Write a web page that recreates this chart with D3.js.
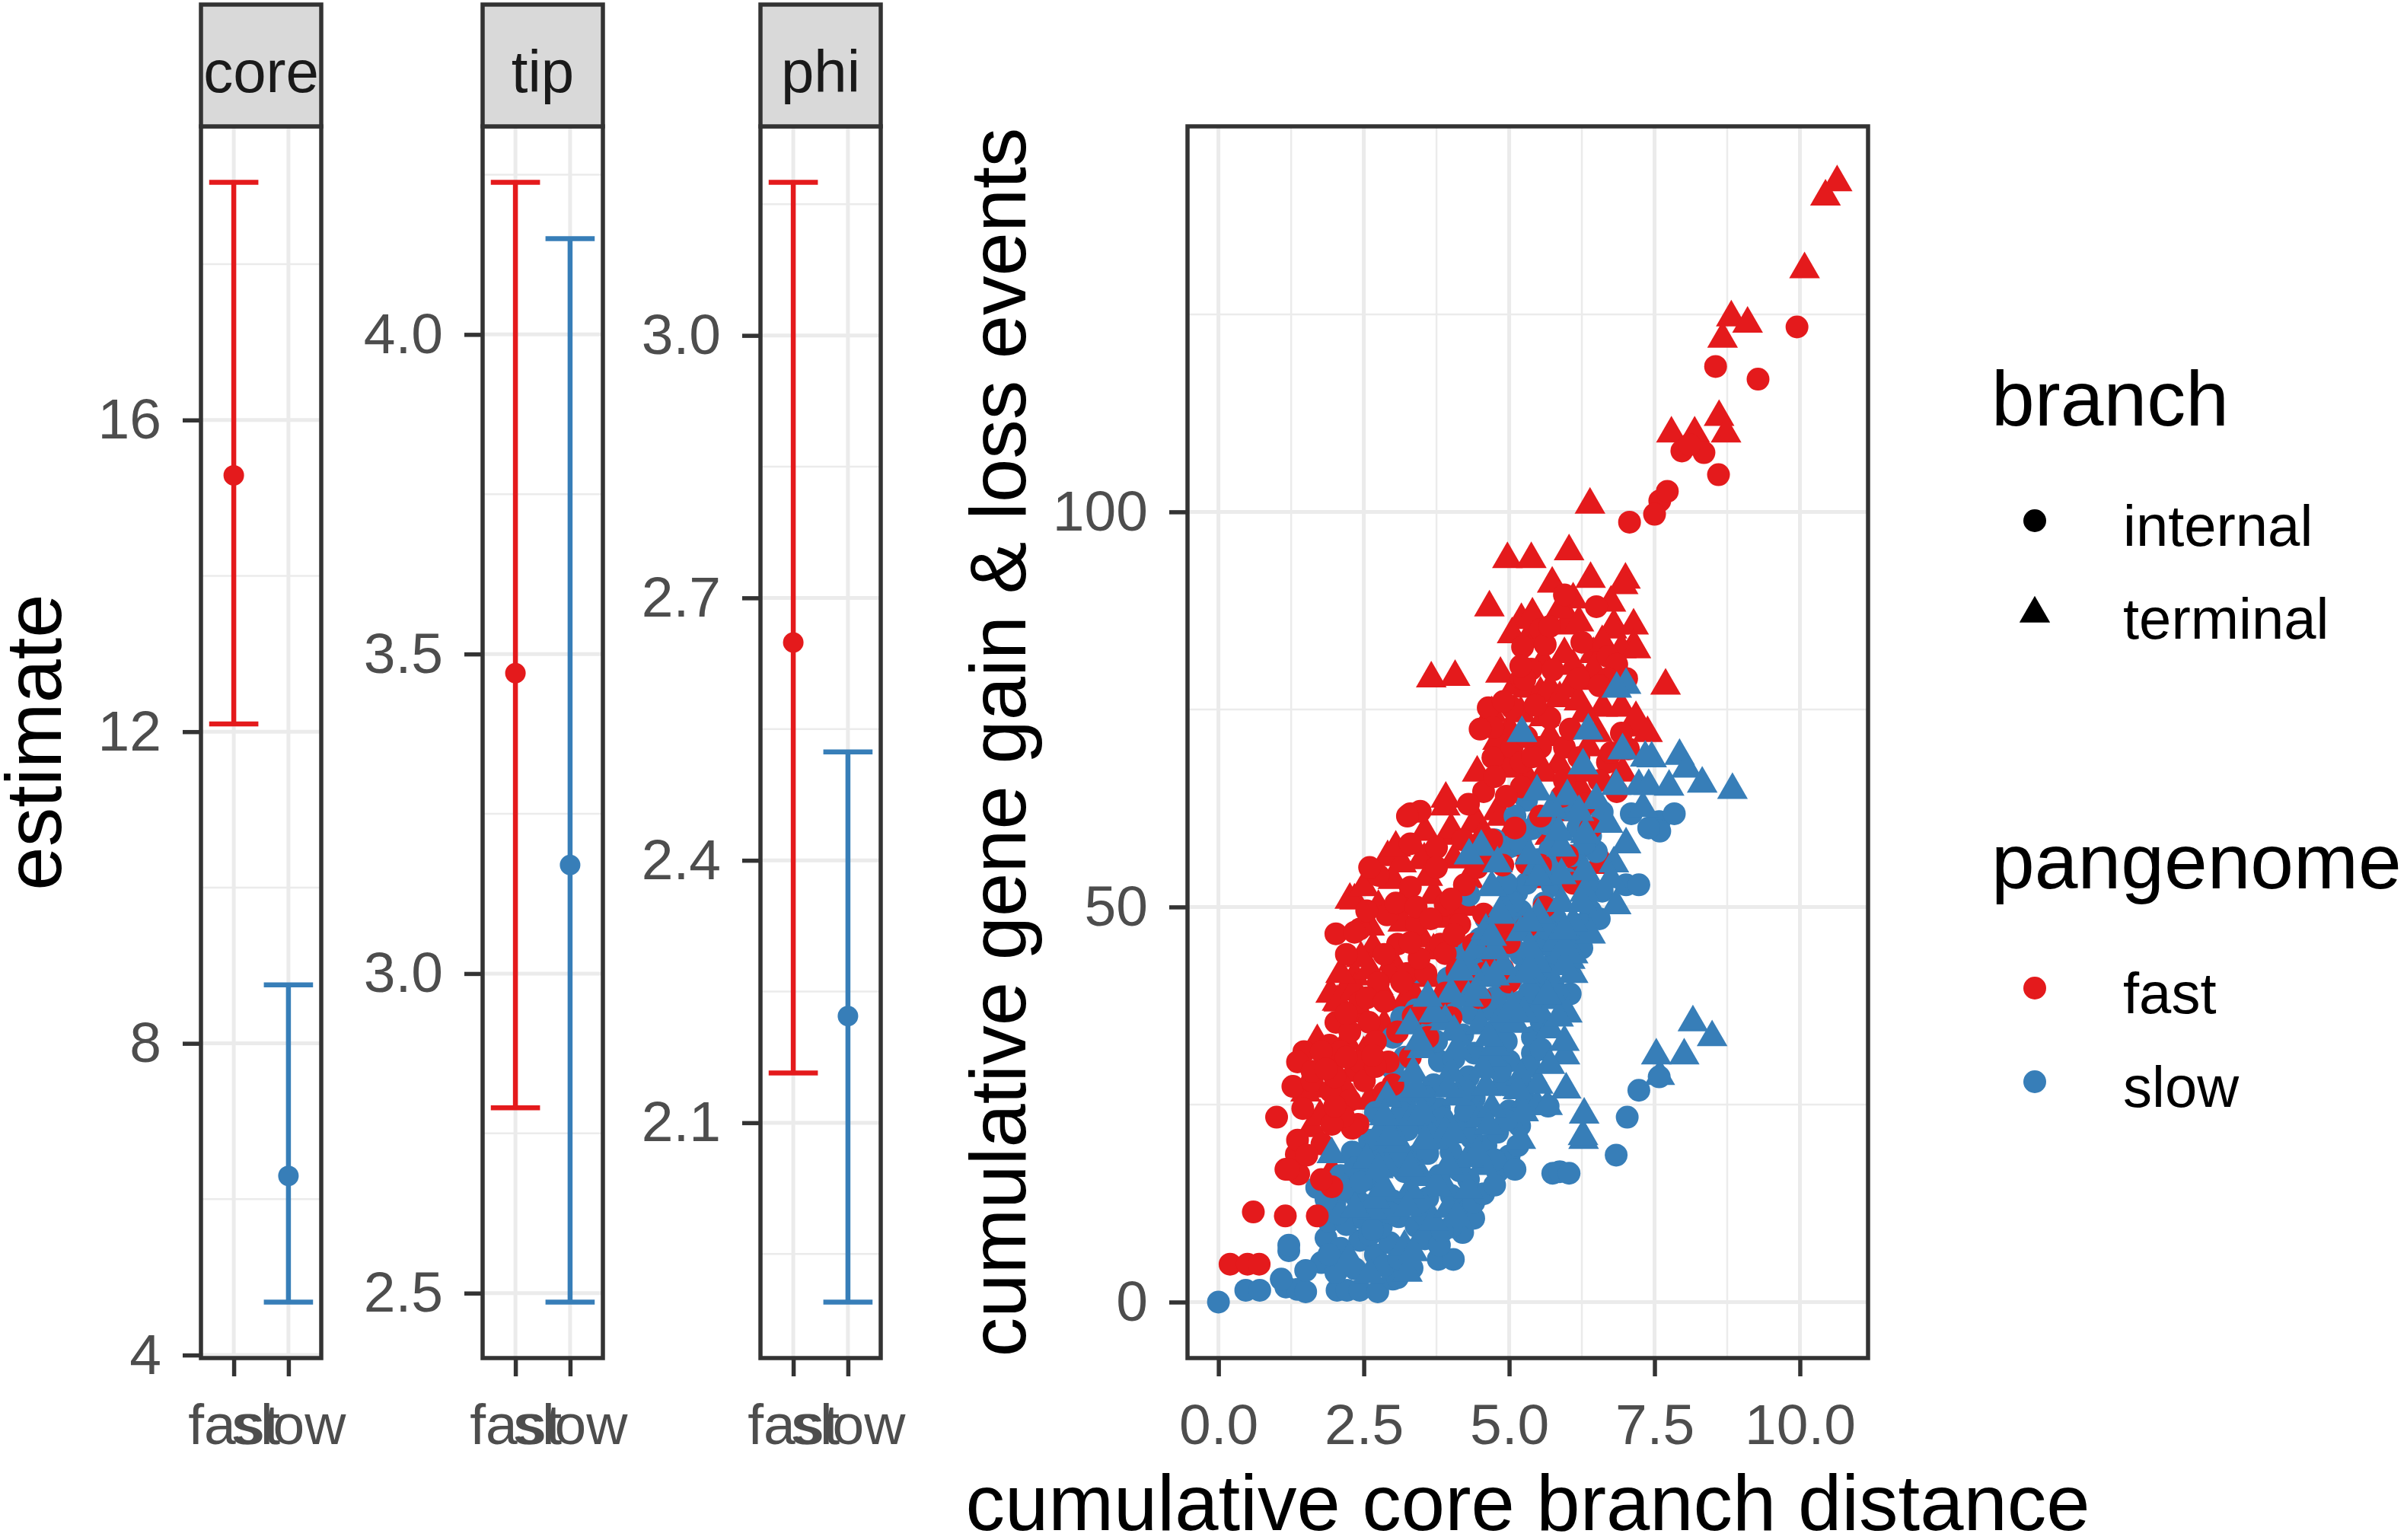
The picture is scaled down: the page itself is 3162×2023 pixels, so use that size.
<!DOCTYPE html>
<html>
<head>
<meta charset="utf-8">
<script src="https://cdn.jsdelivr.net/npm/d3@7"></script>
<style>
  body { margin: 0; background: #fff; }
  text { font-family: "Liberation Sans", Arial, sans-serif; }
</style>
</head>
<body>
<svg id="chart" width="3162" height="2023"></svg>
<script>
// ---- data ----
var categories = ["fast", "slow"];
var facetNames = ["core", "tip", "phi"];

var coreEst = [15.29, 6.30], coreLow = [12.10, 4.68], coreHigh = [19.05, 8.75];
var tipEst = [3.47, 3.17], tipLow = [2.79, 2.486], tipHigh = [4.238, 4.15];
var phiEst = [2.649, 2.222], phiLow = [2.157, 1.895], phiHigh = [3.175, 2.524];

var coreTicks = [4, 8, 12, 16];
var tipTicks = [2.5, 3.0, 3.5, 4.0];
var phiTicks = [2.1, 2.4, 2.7, 3.0];
var distTicks = [0, 2.5, 5, 7.5, 10];
var eventTicks = [0, 50, 100];

var branchLevels = ["internal", "terminal"];
var pangenomeColors = ["#E41A1C", "#377EB8"];

// cumulative core branch distance, cumulative gain/loss events
var fastTerminal = [
  [10.64,141.7],[10.44,139.9],[10.08,130.7],[8.82,124.6],[9.1,123.8],[8.67,121.9],[8.61,112.0],[8.73,109.9],
  [7.79,109.9],[8.19,109.9],[6.39,100.9],[4.97,94.0],[5.38,94.0],[6.03,95.0],[5.74,90.9],[4.66,87.9],
  [6.1,88.9],[5.92,87.7],[7.0,91.4],[6.96,90.7],[5.49,85.6],[5.97,85.6],[6.8,85.6],[7.14,85.6],[5.34,84.2],
  [3.66,78.9],[4.07,79.1],[7.69,78.0],[7.1,72.7],[7.38,72.0],[7.14,83.0],[6.27,78.6],
  [5.46,83.9],[5.3,77.6],[5.54,77.0],[5.7,77.6],[5.87,76.4],[6.03,77.6],[5.87,87.6],[5.21,86.3],
  [6.77,85.1],[6.93,82.6],[7.18,82.6],[6.61,75.2],[6.93,75.2],[7.18,73.9],[6.52,72.0],[4.89,68.9],
  [4.8,62.1],[4.39,60.5],[3.9,62.7],[3.98,59.0],[3.91,63.7],[4.0,59.8],[4.44,60.8],[4.87,61.4],
  [2.91,56.3],[3.54,56.0],[2.34,50.8],[3.22,51.1],[2.6,47.5],[3.17,48.0],[2.65,44.7],[2.34,41.2],
  [2.17,39.3],[2.04,38.0],[2.26,50.9],[2.67,44.7],[3.0,53.4],[3.49,55.9],[1.93,39.0],[2.07,37.9],
  [6.2,55.3],[6.27,54.2],[6.52,55.3],[5.87,56.5],[6.2,65.2],[6.52,62.7],[6.36,70.2],[5.6,74.0],
  [5.0,72.5],[4.7,74.5],[4.45,67.0],[5.3,66.5],[5.85,68.0],[6.0,62.0],[5.7,59.0],[5.2,57.5],
  [4.7,56.0],[4.3,53.5],[3.7,51.5],[3.9,48.5],[3.5,46.0],[3.0,43.0],[2.75,40.0],[2.45,36.5],
  [2.2,33.0],[1.9,30.5],[1.7,27.0],[2.5,31.5],[3.2,38.0],[3.6,41.0],[4.1,44.0],[4.6,47.0],
  [5.0,50.5],[5.4,53.5],[1.95,16.5],[1.6,22.0],[2.3,25.5],[5.58,81.0],[6.45,82.0],[6.1,80.5],
  [5.05,84.5],[4.85,79.5],
  [1.75,23.5],[1.5,26.5],[2.3,29.0],[2.6,25.5],[2.15,27.3],[1.7,33.0],
  [2.35,39.5],[2.6,42.0],[2.95,41.5],[3.35,39.0],[3.7,44.5],[2.45,43.5],[2.1,41.5],[4.35,43.0],[2.85,35.0],
  [2.5,52.5],[2.75,50.0],[3.15,55.5],[3.6,53.8],[3.55,59.5],[4.05,56.0],[4.5,58.5],[4.95,58.5],[4.25,50.0],[3.05,57.5],
  [5.0,67.5],[5.7,71.5],[6.3,74.5],[5.2,74.5],[6.2,76.0],[6.45,80.0],[5.95,82.0],[6.6,83.5],[6.2,86.0],
  [6.75,88.5],[5.4,87.0],[6.4,91.5],[6.95,67.0],[5.6,67.0],[6.25,67.0],[5.8,62.0],[4.8,71.0],[5.1,78.0],
  [5.75,54.5],[6.45,57.5],[6.6,56.0]
];
var fastInternal = [
  [0.2,4.8],[0.5,4.8],[0.7,4.8],[0.6,11.4],[1.15,10.9],[1.7,10.9],[1.0,23.4],[1.16,16.8],
  [1.38,16.2],[1.34,18.7],[1.78,20.0],[1.95,14.6],[1.47,31.7],[1.91,32.5],[1.36,30.4],[1.28,27.3],
  [1.61,28.0],[2.02,35.4],[2.02,46.6],[2.43,47.2],[2.34,46.8],[2.75,54.0],[3.3,61.8],[3.47,62.1],
  [3.25,61.5],[4.56,64.6],[4.72,68.9],[4.75,66.5],[5.05,70.2],[5.21,68.3],[5.21,78.9],[5.38,80.1],
  [5.27,78.8],[5.23,82.9],[6.7,81.7],[5.54,85.1],[5.62,83.2],[6.85,80.7],[6.69,78.9],[7.02,78.9],
  [6.2,78.9],[5.7,73.9],[5.54,70.2],[5.95,70.2],[6.2,68.9],[6.93,72.0],[6.69,68.3],[6.85,64.6],
  [5.21,65.2],[5.54,61.5],[4.56,56.5],[4.89,55.3],[4.23,52.8],[3.9,50.3],[4.15,47.8],[3.82,45.3],
  [4.56,49.1],[4.89,47.8],[3.41,47.8],[3.08,45.3],[3.25,41.6],[2.75,40.4],[2.43,37.9],[2.59,35.4],
  [2.26,34.2],[2.1,31.7],[2.43,30.4],[1.77,31.7],[1.61,29.2],[1.93,26.7],[2.26,25.5],[2.51,28.0],
  [2.92,30.4],[3.08,34.2],[3.57,36.6],[3.9,39.1],[4.23,40.4],[4.56,41.6],[4.89,42.2],[3.57,41.6],
  [3.9,44.1],[4.39,45.3],[2.85,26.5],[2.4,22.5],[1.36,20.5],[1.52,18.6],[1.2,16.8],[1.77,15.5],
  [5.54,55.3],[7.07,98.7],[7.59,101.4],[7.5,99.7],[7.72,102.6],[7.97,107.7],[8.35,107.5],[8.1,108.5],
  [8.6,104.7],[8.55,118.4],[9.28,116.8],[9.95,123.4],[4.64,75.2],[4.72,72.7],[5.05,75.2],[4.3,63.0],
  [3.75,57.5],[3.3,52.5],[2.9,49.0],[5.1,60.0],[5.9,64.0],[6.4,60.0],[5.6,50.0],[5.0,45.5],
  [5.3,47.5],[3.0,27.5],[2.7,33.0],[2.3,22.0],[2.15,23.5],[3.3,31.0],[3.6,33.5],[4.0,36.0],
  [4.5,38.5],[5.0,40.5],
  [1.45,24.5],[1.95,22.5],[2.0,28.5],[2.7,29.8],[2.0,24.8],[1.85,29.5],[2.65,31.2],[2.2,31.0],
  [2.2,36.5],[2.55,38.5],[2.85,38.0],[3.15,40.5],[2.85,44.0],[3.45,43.5],[3.3,45.5],[2.2,44.0],
  [3.75,38.0],[4.1,42.0],[4.7,44.0],[4.05,46.5],[3.35,36.2],
  [2.55,49.5],[3.05,50.5],[3.4,50.0],[3.3,58.0],[3.75,55.0],[4.2,58.5],[4.45,55.0],[4.7,58.5],
  [4.0,51.0],[3.65,48.5],[2.6,55.0],
  [4.95,64.0],[5.4,69.0],[6.05,72.5],[5.3,71.5],[5.45,75.5],[6.55,78.0],[5.75,80.0],[6.25,83.5],
  [5.7,85.5],[6.5,88.0],[5.95,89.5],[6.75,69.5],[7.05,70.0],[5.95,66.0],[6.55,66.0],[6.3,63.0],
  [4.9,76.0],[4.5,72.5],[5.2,80.5],[6.0,56.5],[6.1,53.0],[5.3,55.5]
];
var slowInternal = [
  [0,0],[0.47,1.5],[0.71,1.5],[1.16,1.9],[1.36,1.6],[1.5,1.3],[2.04,1.5],[2.21,1.5],[2.43,1.5],
  [2.74,1.3],[3.0,2.9],[1.08,2.9],[1.77,5.0],[2.02,3.7],[3.08,3.1],[3.33,4.3],[3.78,5.4],[4.04,5.4],
  [1.21,6.5],[1.21,7.2],[1.85,8.1],[2.1,6.8],[2.43,7.8],[2.7,6.0],[2.95,7.5],
  [1.9,10.2],[2.2,9.8],[2.5,10.5],[2.8,9.5],[3.1,10.8],[3.4,9.6],[4.2,8.8],[4.39,10.6],
  [1.69,14.5],[2.0,12.5],[2.35,13.5],[3.0,12.8],[3.6,13.2],[4.15,12.4],[4.39,12.6],[4.56,13.7],
  [2.1,16.0],[2.6,15.5],[3.2,16.5],[3.8,16.0],[4.3,15.5],[4.8,16.5],[4.75,14.8],[5.75,16.3],[5.87,16.5],[6.03,16.3],
  [2.3,19.0],[2.8,19.5],[3.4,18.5],[4.0,19.0],[4.6,19.8],[5.0,18.5],[6.84,18.6],
  [3.0,22.5],[3.6,22.0],[4.2,22.8],[4.8,21.5],[5.18,22.3],[7.03,23.4],
  [2.7,24.0],[3.2,25.5],[3.8,24.5],[4.4,25.8],[5.0,24.2],[5.67,24.8],
  [3.1,28.0],[3.7,27.5],[4.3,28.5],[4.9,27.5],[7.23,26.8],[7.58,28.5],
  [3.2,31.0],[3.8,30.5],[4.4,31.5],[5.0,30.5],[5.4,31.5],
  [3.0,33.5],[3.6,34.5],[4.2,33.8],[4.8,34.5],[5.4,33.5],
  [3.4,37.0],[4.0,37.5],[4.6,37.0],[5.2,38.0],
  [3.95,41.0],[4.3,40.5],[4.9,39.5],[5.5,40.5],
  [3.43,41.8],[4.1,43.5],[4.6,43.0],[5.2,44.0],[5.8,43.5],
  [4.5,46.0],[4.9,45.5],[5.5,46.5],[6.1,46.0],
  [4.6,48.5],[5.2,49.5],[5.8,48.5],[6.4,49.5],
  [4.31,51.5],[5.13,51.8],[5.74,52.7],[5.3,53.0],[6.0,53.5],[6.6,52.0],[7.01,52.8],[7.23,52.8],
  [5.0,57.6],[5.5,56.0],[5.2,58.0],[6.1,56.5],[6.5,57.0],
  [5.39,59.9],[5.5,61.0],[6.18,60.0],[6.4,59.0],[7.1,61.8],[7.58,60.8],[7.84,61.8],[7.59,59.6],
  [5.96,62.5],[5.3,63.5],
  [1.5,4.0],[2.35,4.2],[2.85,4.6],[1.9,6.0],[2.6,8.5],[3.1,5.5],[3.55,8.0],[3.8,7.2],[4.0,9.5],
  [2.05,11.2],[2.65,9.2],[2.95,11.3],[3.55,11.0],[3.85,9.0],[2.15,14.3],[2.5,12.3],[3.45,12.6],[4.0,13.5],[1.85,13.0],
  [2.35,17.0],[3.05,18.5],[3.6,18.8],[4.15,16.6],[4.75,18.0],[5.1,16.8],[5.15,19.8],[2.45,15.2],
  [2.6,20.5],[3.25,21.8],[3.85,23.3],[4.35,20.8],[4.95,23.0],[3.15,24.0],[4.25,24.2],
  [3.0,29.5],[3.55,26.0],[4.25,26.8],[4.85,29.2],[5.35,29.8],[4.05,30.8],[5.55,32.0],
  [3.15,36.0],[3.75,33.0],[4.35,36.5],[4.95,33.0],[5.55,35.5],[3.95,38.5],[4.75,38.5],[5.35,39.2],[6.05,39.0],
  [4.45,42.0],[5.05,41.0],[5.65,41.5],[4.3,44.5],[5.05,45.0],[5.65,45.2],[6.25,44.8],
  [5.05,47.5],[5.65,47.2],[6.25,47.8],[5.05,50.6],[5.6,50.5],[6.55,48.5],
  [4.95,53.0],[5.75,55.0],[6.35,53.0],[4.75,58.5],[5.7,57.2],[6.3,58.0],[5.65,60.5],[5.1,61.5],[6.6,62.0],[7.4,60.0]
];
var slowTerminal = [
  [3.25,3.7],[2.25,5.5],[3.2,7.0],[2.65,11.5],[3.7,10.2],[3.95,11.8],[2.7,13.0],[3.3,14.2],[3.9,14.5],
  [1.95,18.7],[2.9,17.0],[3.5,15.8],[4.55,17.2],[2.55,18.0],[3.1,20.0],[3.7,20.5],[4.3,18.2],
  [6.28,20.5],[6.27,21.0],[2.75,21.2],[3.35,23.5],[3.9,21.5],[4.5,23.2],[6.29,23.7],
  [2.9,25.8],[3.5,24.0],[4.1,26.0],[4.7,24.5],[5.3,25.8],[5.48,24.8],[5.66,24.8],
  [3.4,27.0],[4.0,29.0],[4.6,27.2],[5.2,28.5],[5.5,27.5],[5.98,26.9],[7.59,28.6],
  [3.5,32.0],[4.1,32.0],[4.7,31.0],[5.96,31.2],[7.53,31.2],[8.01,31.2],[5.7,30.0],
  [3.3,35.0],[3.9,35.5],[4.5,35.0],[5.1,35.2],[5.7,34.5],[5.95,32.9],[8.16,35.4],[8.49,33.5],
  [3.7,36.5],[4.3,38.5],[4.9,36.5],[5.5,37.0],[5.8,38.2],[6.0,36.5],
  [4.0,39.0],[4.6,41.0],[5.2,41.5],[5.8,40.0],[6.1,41.5],[6.05,43.3],
  [4.3,42.5],[4.44,44.7],[4.9,42.5],[5.5,42.8],[6.1,44.0],
  [4.6,47.0],[5.2,46.8],[5.8,45.5],[6.4,46.5],
  [4.9,50.0],[5.5,49.0],[5.9,50.5],[6.1,48.0],[6.84,50.2],
  [4.7,52.5],[5.9,54.0],[6.3,51.8],[4.52,57.6],[5.48,55.2],[4.31,56.5],[7.01,57.9],[5.9,57.5],
  [6.8,55.5],[4.8,55.5],[6.31,59.2],[5.74,62.5],[6.7,60.5],
  [5.48,64.6],[6.84,65.3],[7.23,65.3],[7.4,65.3],[7.75,65.2],[8.32,65.6],[8.84,64.8],[6.0,64.0],[6.5,63.5],
  [6.27,67.9],[6.95,69.8],[7.45,68.8],[7.93,69.1],[8.05,67.5],[7.34,68.9],
  [5.22,72.0],[6.36,72.3],[7.01,78.1],[6.85,77.6],
  [2.6,3.5],[3.35,6.3],[2.35,11.8],[3.25,12.0],[4.1,10.8],[2.85,14.5],[3.75,14.8],[4.3,14.2],
  [2.75,16.8],[3.3,17.0],[3.95,17.3],[4.45,18.8],[2.95,21.0],[3.55,20.4],[4.05,21.2],[4.65,22.3],
  [5.2,20.5],[2.85,23.5],[5.25,24.0],[3.35,29.0],[3.95,27.0],[4.55,29.5],[5.15,26.8],[4.75,32.3],
  [3.45,33.0],[4.05,34.2],[4.65,33.5],[5.25,36.5],[5.85,36.0],[3.6,38.5],[4.45,39.5],[5.05,37.2],
  [5.65,38.8],[4.15,41.8],[4.75,41.2],[5.35,42.2],[5.95,42.5],[4.75,44.5],[5.35,44.8],[5.95,45.0],
  [4.7,46.2],[5.35,48.0],[5.95,47.0],[4.85,49.0],[6.25,50.5],[5.5,53.8],[6.3,54.5],[6.75,53.5],
  [5.35,56.5],[5.85,59.5],[6.2,62.0],[7.3,62.5]
];

// ---- layout ----
var svg = d3.select("#chart");
var panelTop = 166, panelBottom = 1784, stripTop = 6;
var facetX = [264, 634, 999], facetW = 158;
var lineW = 5.5, barW = 6.5, gridW = 5, gridMinorW = 2.5, tickLen = 24;
var ink = "#333333", gridCol = "#EBEBEB", tickText = "#4D4D4D";
var smallFont = 75, bigFont = 103;
var pointR = 15;

function midTicks(ticks, domain) {
	// minor breaks halfway between majors, plus one either side if it fits
	var step = ticks[1] - ticks[0];
	var out = [];
	for (var i = -1; i < ticks.length; i++) {
		var v = ticks[0] + step * (i + 0.5);
		if (v > domain[0] && v < domain[1]) out.push(v);
	}
	return out;
}

function styleAxis(g) {
	g.select(".domain").remove();
	g.selectAll(".tick line").attr("stroke", ink).attr("stroke-width", lineW);
	g.selectAll(".tick text")
		.attr("fill", tickText)
		.style("font-size", smallFont + "px")
		.style("font-family", '"Liberation Sans", Arial, sans-serif');
}

function drawFacet(i, est, low, high, ticks, fmt) {
	var x0 = facetX[i];
	var ext = d3.extent(low.concat(high));
	var pad = (ext[1] - ext[0]) * 0.05;
	var y = d3.scaleLinear().domain([ext[0] - pad, ext[1] + pad]).range([panelBottom, panelTop]);
	var x = d3.scalePoint().domain(categories).range([x0, x0 + facetW]).padding(0.6);
	var g = svg.append("g").attr("class", "facet");

	g.selectAll(".minor").data(midTicks(ticks, y.domain())).enter().append("line")
		.attr("x1", x0).attr("x2", x0 + facetW)
		.attr("y1", function(d) { return y(d); }).attr("y2", function(d) { return y(d); })
		.attr("stroke", gridCol).attr("stroke-width", gridMinorW);
	g.selectAll(".major").data(ticks).enter().append("line")
		.attr("x1", x0).attr("x2", x0 + facetW)
		.attr("y1", function(d) { return y(d); }).attr("y2", function(d) { return y(d); })
		.attr("stroke", gridCol).attr("stroke-width", gridW);
	g.selectAll(".vgrid").data(categories).enter().append("line")
		.attr("x1", function(d) { return x(d); }).attr("x2", function(d) { return x(d); })
		.attr("y1", panelTop).attr("y2", panelBottom)
		.attr("stroke", gridCol).attr("stroke-width", gridW);

	var capHalf = x.step() * 0.45;
	var bars = g.selectAll(".bar").data(categories).enter().append("g");
	bars.append("line")
		.attr("x1", function(d) { return x(d); }).attr("x2", function(d) { return x(d); })
		.attr("y1", function(d, j) { return y(low[j]); }).attr("y2", function(d, j) { return y(high[j]); });
	bars.append("line")
		.attr("x1", function(d) { return x(d) - capHalf; }).attr("x2", function(d) { return x(d) + capHalf; })
		.attr("y1", function(d, j) { return y(low[j]); }).attr("y2", function(d, j) { return y(low[j]); });
	bars.append("line")
		.attr("x1", function(d) { return x(d) - capHalf; }).attr("x2", function(d) { return x(d) + capHalf; })
		.attr("y1", function(d, j) { return y(high[j]); }).attr("y2", function(d, j) { return y(high[j]); });
	bars.selectAll("line")
		.attr("stroke", function() { return pangenomeColors[categories.indexOf(d3.select(this.parentNode).datum())]; })
		.attr("stroke-width", barW);
	bars.append("circle")
		.attr("cx", function(d) { return x(d); })
		.attr("cy", function(d, j) { return y(est[j]); })
		.attr("r", 13.5)
		.attr("fill", function(d, j) { return pangenomeColors[j]; });

	g.append("rect")
		.attr("x", x0).attr("y", panelTop).attr("width", facetW).attr("height", panelBottom - panelTop)
		.attr("fill", "none").attr("stroke", ink).attr("stroke-width", lineW);
	g.append("rect")
		.attr("x", x0).attr("y", stripTop).attr("width", facetW).attr("height", panelTop - stripTop)
		.attr("fill", "#D9D9D9").attr("stroke", ink).attr("stroke-width", lineW);
	g.append("text")
		.attr("x", x0 + facetW / 2).attr("y", 121)
		.attr("text-anchor", "middle")
		.attr("fill", "#1A1A1A")
		.style("font-size", "78px")
		.text(facetNames[i]);

	g.append("g").attr("transform", "translate(" + x0 + ",0)")
		.call(d3.axisLeft(y).tickValues(ticks).tickSize(tickLen).tickPadding(28).tickFormat(fmt))
		.call(styleAxis);
	g.append("g").attr("transform", "translate(0," + panelBottom + ")")
		.call(d3.axisBottom(x).tickSize(tickLen).tickPadding(36))
		.call(styleAxis);
}

drawFacet(0, coreEst, coreLow, coreHigh, coreTicks, d3.format("d"));
drawFacet(1, tipEst, tipLow, tipHigh, tipTicks, d3.format(".1f"));
drawFacet(2, phiEst, phiLow, phiHigh, phiTicks, d3.format(".1f"));

svg.append("text")
	.attr("transform", "translate(80,975) rotate(-90)")
	.attr("text-anchor", "middle")
	.style("font-size", bigFont + "px")
	.text("estimate");

// ---- scatter ----
var sLeft = 1560, sRight = 2454;
var allPts = fastTerminal.concat(fastInternal, slowInternal, slowTerminal);
var xExt = d3.extent(allPts, function(d) { return d[0]; });
var yExt = d3.extent(allPts, function(d) { return d[1]; });
var xPad = (xExt[1] - xExt[0]) * 0.05, yPad = (yExt[1] - yExt[0]) * 0.05;
var sx = d3.scaleLinear().domain([xExt[0] - xPad, xExt[1] + xPad]).range([sLeft, sRight]);
var sy = d3.scaleLinear().domain([yExt[0] - yPad, yExt[1] + yPad]).range([panelBottom, panelTop]);

var sg = svg.append("g").attr("class", "scatter");
sg.selectAll(".xminor").data(midTicks(distTicks, sx.domain())).enter().append("line")
	.attr("x1", function(d) { return sx(d); }).attr("x2", function(d) { return sx(d); })
	.attr("y1", panelTop).attr("y2", panelBottom)
	.attr("stroke", gridCol).attr("stroke-width", gridMinorW);
sg.selectAll(".yminor").data(midTicks(eventTicks, sy.domain())).enter().append("line")
	.attr("x1", sLeft).attr("x2", sRight)
	.attr("y1", function(d) { return sy(d); }).attr("y2", function(d) { return sy(d); })
	.attr("stroke", gridCol).attr("stroke-width", gridMinorW);
sg.selectAll(".xmajor").data(distTicks).enter().append("line")
	.attr("x1", function(d) { return sx(d); }).attr("x2", function(d) { return sx(d); })
	.attr("y1", panelTop).attr("y2", panelBottom)
	.attr("stroke", gridCol).attr("stroke-width", gridW);
sg.selectAll(".ymajor").data(eventTicks).enter().append("line")
	.attr("x1", sLeft).attr("x2", sRight)
	.attr("y1", function(d) { return sy(d); }).attr("y2", function(d) { return sy(d); })
	.attr("stroke", gridCol).attr("stroke-width", gridW);

var circleSym = d3.symbol().type(d3.symbolCircle).size(Math.PI * pointR * pointR);
var triSym = d3.symbol().type(d3.symbolTriangle).size(Math.PI * pointR * pointR);

var layers = [
	{ pts: fastTerminal, sym: triSym, col: pangenomeColors[0] },
	{ pts: slowInternal, sym: circleSym, col: pangenomeColors[1] },
	{ pts: fastInternal, sym: circleSym, col: pangenomeColors[0] },
	{ pts: slowTerminal, sym: triSym, col: pangenomeColors[1] }
];
layers.forEach(function(l) {
	sg.append("g").selectAll("path").data(l.pts).enter().append("path")
		.attr("transform", function(d) { return "translate(" + sx(d[0]) + "," + sy(d[1]) + ")"; })
		.attr("d", l.sym)
		.attr("fill", l.col);
});

sg.append("rect")
	.attr("x", sLeft).attr("y", panelTop).attr("width", sRight - sLeft).attr("height", panelBottom - panelTop)
	.attr("fill", "none").attr("stroke", ink).attr("stroke-width", lineW);

sg.append("g").attr("transform", "translate(" + sLeft + ",0)")
	.call(d3.axisLeft(sy).tickValues(eventTicks).tickSize(tickLen).tickPadding(28).tickFormat(d3.format("d")))
	.call(styleAxis);
sg.append("g").attr("transform", "translate(0," + panelBottom + ")")
	.call(d3.axisBottom(sx).tickValues(distTicks).tickSize(tickLen).tickPadding(36).tickFormat(d3.format(".1f")))
	.call(styleAxis);

svg.append("text")
	.attr("x", (sLeft + sRight) / 2).attr("y", 2010)
	.attr("text-anchor", "middle")
	.style("font-size", bigFont + "px")
	.text("cumulative core branch distance");
svg.append("text")
	.attr("transform", "translate(1347,975) rotate(-90)")
	.attr("text-anchor", "middle")
	.style("font-size", bigFont + "px")
	.text("cumulative gene gain & loss events");

// ---- legends ----
var legX = 2616, keyX = 2673, labX = 2789;
var lg = svg.append("g").attr("class", "legend");
lg.append("text").attr("x", legX).attr("y", 559).style("font-size", "102px").text("branch");
var branchKeys = [684, 806];
lg.selectAll(".bk").data(branchLevels).enter().append("path")
	.attr("transform", function(d, i) { return "translate(" + keyX + "," + branchKeys[i] + ")"; })
	.attr("d", function(d, i) { return i === 0 ? circleSym() : triSym(); })
	.attr("fill", "#000");
lg.selectAll(".bl").data(branchLevels).enter().append("text")
	.attr("x", labX).attr("y", function(d, i) { return branchKeys[i] + 33; })
	.style("font-size", "76px")
	.text(function(d) { return d; });

lg.append("text").attr("x", legX).attr("y", 1167).style("font-size", "102px").text("pangenome");
var pangKeys = [1298, 1421];
lg.selectAll(".pk").data(categories).enter().append("path")
	.attr("transform", function(d, i) { return "translate(" + keyX + "," + pangKeys[i] + ")"; })
	.attr("d", circleSym)
	.attr("fill", function(d, i) { return pangenomeColors[i]; });
lg.selectAll(".pl").data(categories).enter().append("text")
	.attr("x", labX).attr("y", function(d, i) { return pangKeys[i] + 33; })
	.style("font-size", "76px")
	.text(function(d) { return d; });
</script>
</body>
</html>
